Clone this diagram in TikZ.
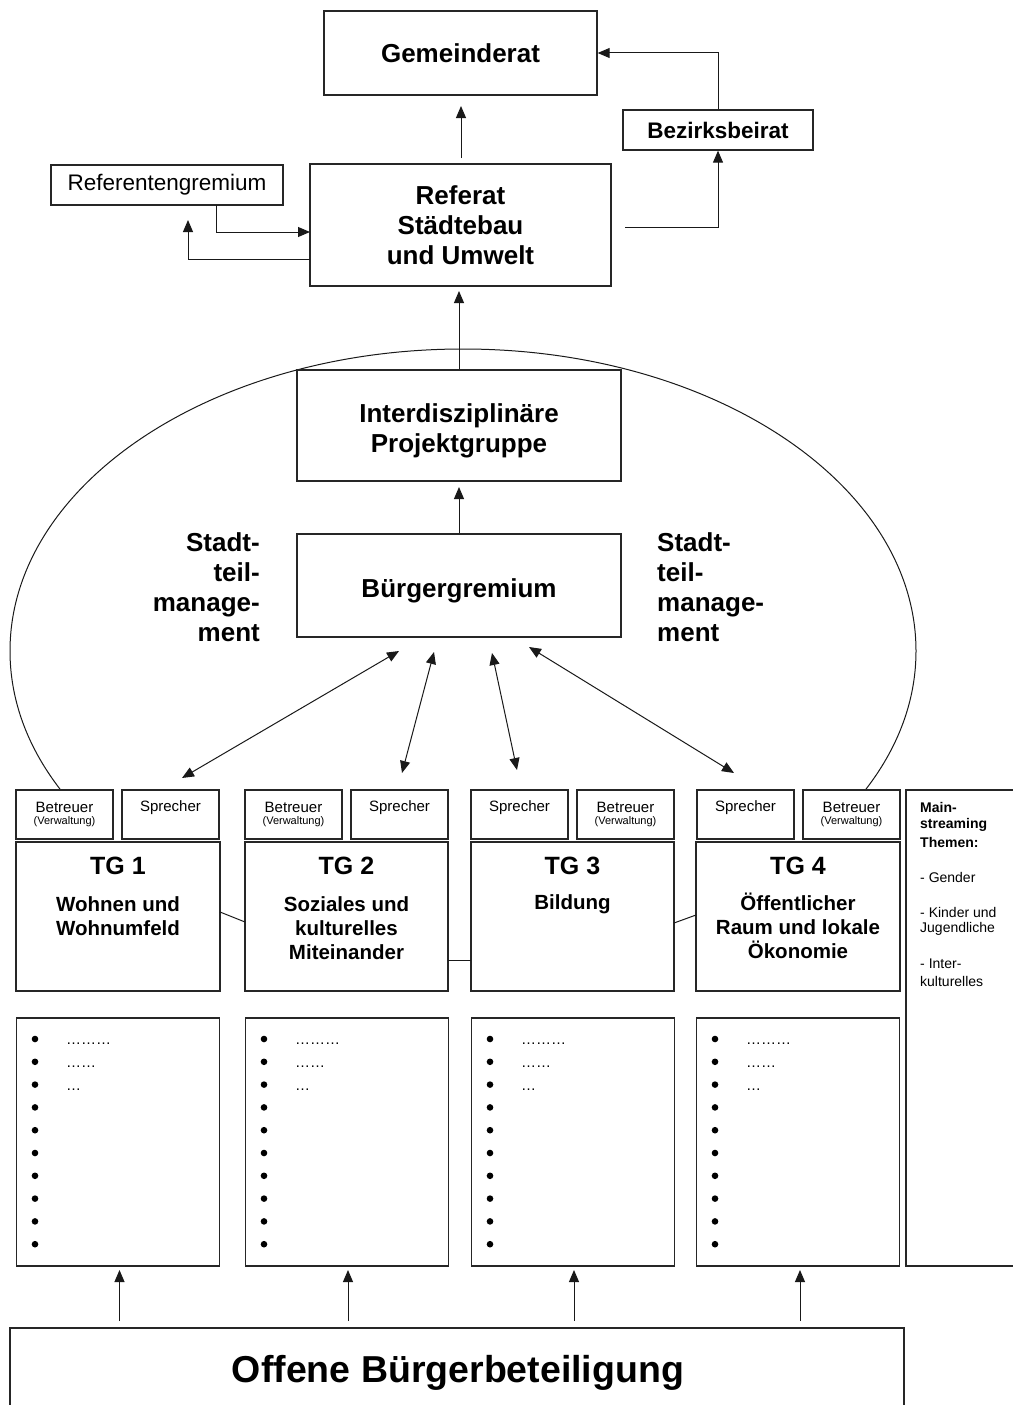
\documentclass[tikz,border=0pt]{standalone}
\usepackage{fontspec}
\setmainfont{Liberation Sans}
\usetikzlibrary{arrows.meta}
\newcommand\FntTop{\fontsize{26}{30}\selectfont\bfseries}
\newcommand\FntBez{\fontsize{22.5}{26}\selectfont\bfseries}
\newcommand\FntRg{\fontsize{22.5}{26}\selectfont}
\newcommand\FntTG{\fontsize{25}{29}\selectfont\bfseries}
\newcommand\FntTGd{\fontsize{20.5}{24}\selectfont\bfseries}
\newcommand\FntSm{\fontsize{15}{17}\selectfont}
\newcommand\FntXs{\fontsize{11}{13}\selectfont}
\newcommand\FntMs{\fontsize{14}{16}\selectfont}
\newcommand\FntOff{\fontsize{37.5}{42}\selectfont\bfseries}
\newcommand\FntDots{\fontsize{15}{17}\selectfont}
\tikzset{
  box/.style={draw=black!85, line width=1.3pt, fill=white, inner sep=0pt, rectangle},
  conn/.style={line width=1pt, draw=black!90},
  arr/.style={conn, -{Triangle[length=12pt,width=10pt]}},
  darr/.style={conn, {Triangle[length=12pt,width=10pt]}-{Triangle[length=12pt,width=10pt]}},
  txt/.style={inner sep=0pt, align=center},
  small/.style={box, minimum width=97pt, minimum height=49pt},
  tgbox/.style={box, minimum height=149pt},
  blbox/.style={box, minimum height=248pt},
}
\begin{document}
\begin{tikzpicture}[x=1pt,y=-1pt]
\useasboundingbox (0,0) rectangle (1012,1405);

% ellipse (Stadtteilmanagement)
\begin{scope}
\clip (0,0) rectangle (1012,790);
\draw[conn] (463,651) ellipse [x radius=453pt, y radius=302pt];
\end{scope}

% top boxes
\node[box, minimum width=273pt, minimum height=84pt, font=\FntTop] (gem) at (460.5,53) {Gemeinderat};
\node[box, minimum width=190pt, minimum height=40pt, font=\FntBez] (bez) at (718,130) {Bezirksbeirat};
\node[box, minimum width=232pt, minimum height=40pt, font=\FntRg] (refg) at (167,185) {Referentengremium};
\node[box, minimum width=301pt, minimum height=122pt, font=\FntTop, align=center] (ref) at (460.5,225) {Referat\\Städtebau\\und Umwelt};

\node[box, minimum width=324pt, minimum height=111pt] (idp) at (459,425.5) {};
\node[txt, font=\FntTop] (idpt) at (459,431) {Interdisziplinäre\\Projektgruppe};
\node[box, minimum width=324pt, minimum height=103pt] (bg) at (459,585.5) {};
\node[txt, font=\FntTop] (bgt) at (459,591) {Bürgergremium};

\node[txt, font=\FntTop, align=right, anchor=east] (stl) at (260,587) {Stadt-\\teil-\\manage-\\ment};
\node[txt, font=\FntTop, align=left, anchor=west] (str) at (657,587) {Stadt-\\teil-\\manage-\\ment};

% top connectors
\coordinate (g1) at (461,158);
\coordinate (g2) at (461,106);
\draw[arr] (g1) -- (g2);
\draw[arr] (bez.north) |- (gem.east);
\coordinate (rr) at (625,227);
\draw[arr] (rr) -| (bez.south);
\coordinate (rg1) at (216,205);
\coordinate (rf1) at (310,232);
\draw[arr] (rg1) |- (rf1);
\coordinate (rf2) at (310,259);
\coordinate (rg2) at (188,220);
\draw[arr] (rf2) -| (rg2);
\coordinate (r3) at (459,291);
\draw[arr] (idp.north) -- (r3);
\coordinate (i3) at (459,487);
\draw[arr] (bg.north) -- (i3);

% double arrows
\coordinate (d1a) at (399,651); \coordinate (d1b) at (182,778);
\coordinate (d2a) at (434,652); \coordinate (d2b) at (402,773);
\coordinate (d3a) at (492,653); \coordinate (d3b) at (517,770);
\coordinate (d4a) at (529,647); \coordinate (d4b) at (734,773);
\draw[darr] (d1a) -- (d1b);
\draw[darr] (d2a) -- (d2b);
\draw[darr] (d3a) -- (d3b);
\draw[darr] (d4a) -- (d4b);

% small boxes
\node[small] (b1) at (64.5,814.5) {};
\node[small] (s1) at (170.5,814.5) {};
\node[small] (b2) at (293.5,814.5) {};
\node[small] (s2) at (399.5,814.5) {};
\node[small] (s3) at (519.5,814.5) {};
\node[small] (b3) at (625.5,814.5) {};
\node[small] (s4) at (745.5,814.5) {};
\node[small] (b4) at (851.5,814.5) {};
\foreach \n/\x in {b1/64.5,b2/293.5,b3/625.5,b4/851.5}{
  \node[txt, font=\FntSm] (\n t) at (\x,807) {Betreuer};
  \node[txt, font=\FntXs] (\n v) at (\x,822) {(Verwaltung)};
}
\foreach \n/\x in {s1/170.5,s2/399.5,s3/519.5,s4/745.5}{
  \node[txt, font=\FntSm] (\n t) at (\x,808) {Sprecher};
}

% TG boxes
\node[tgbox, minimum width=204pt] (tg1) at (118,916.5) {};
\node[tgbox, minimum width=203pt] (tg2) at (346.5,916.5) {};
\node[tgbox, minimum width=203pt] (tg3) at (572.5,916.5) {};
\node[tgbox, minimum width=204pt] (tg4) at (798,916.5) {};
\node[txt, font=\FntTG] (tg1h) at (118,866) {TG 1};
\node[txt, font=\FntTG] (tg2h) at (346.5,866) {TG 2};
\node[txt, font=\FntTG] (tg3h) at (572.5,866) {TG 3};
\node[txt, font=\FntTG] (tg4h) at (798,866) {TG 4};
\node[txt, font=\FntTGd] (tg1d) at (118,916) {Wohnen und\\Wohnumfeld};
\node[txt, font=\FntTGd] (tg2d) at (346.5,928) {Soziales und\\kulturelles\\Miteinander};
\node[txt, font=\FntTGd] (tg3d) at (572.5,904) {Bildung};
\node[txt, font=\FntTGd] (tg4d) at (798,926) {Öffentlicher\\Raum und lokale\\Ökonomie};

\coordinate (c1a) at (220,912); \coordinate (c1b) at (245,922);
\coordinate (c2a) at (448,960); \coordinate (c2b) at (471,960);
\coordinate (c3a) at (674,923); \coordinate (c3b) at (696,915);
\draw[conn] (c1a) -- (c1b);
\draw[conn] (c2a) -- (c2b);
\draw[conn] (c3a) -- (c3b);

% Mainstreaming box
\node[box, minimum width=130pt, minimum height=476pt] (ms) at (971,1028) {};
\node[txt, font=\FntMs\bfseries, anchor=west] (ms1) at (920,807) {Main-};
\node[txt, font=\FntMs\bfseries, anchor=west] (ms2) at (920,825) {streaming};
\node[txt, font=\FntMs\bfseries, anchor=west] (ms3) at (920,842) {Themen:};
\node[txt, font=\FntMs, anchor=west] (ms4) at (920,877) {- Gender};
\node[txt, font=\FntMs, anchor=west] (ms5) at (920,912) {- Kinder und};
\node[txt, font=\FntMs, anchor=west] (ms6) at (920,929) {Jugendliche};
\node[txt, font=\FntMs, anchor=west] (ms7) at (920,964) {- Inter-};
\node[txt, font=\FntMs, anchor=west] (ms8) at (920,981) {kulturelles};

% bullet boxes
\foreach \i/\l in {1/16,2/245,3/471,4/696}{
  \node[blbox, minimum width=203.5pt] (bl\i) at (\l+102,1142) {};
  \foreach \k in {0,...,9}{
    \fill (\l+19,1039+22.8*\k) circle[radius=3.3pt];
  }
  \node[inner sep=0pt, font=\FntDots, anchor=base west] (dA\i) at (\l+50,1044) {………};
  \node[inner sep=0pt, font=\FntDots, anchor=base west] (dB\i) at (\l+50,1067) {……};
  \node[inner sep=0pt, font=\FntDots, anchor=base west] (dC\i) at (\l+50,1090) {…};
}

% bottom box
\node[box, minimum width=894pt, minimum height=120pt] (off) at (457,1388) {};
\node[txt, font=\FntOff] (offt) at (458,1373) {Offene Bürgerbeteiligung};
\foreach \i/\x in {1/119.5,2/348,3/574,4/800}{
  \coordinate (ua\i) at (\x,1321);
  \coordinate (ub\i) at (\x,1270);
  \draw[arr] (ua\i) -- (ub\i);
}
\end{tikzpicture}
\end{document}
